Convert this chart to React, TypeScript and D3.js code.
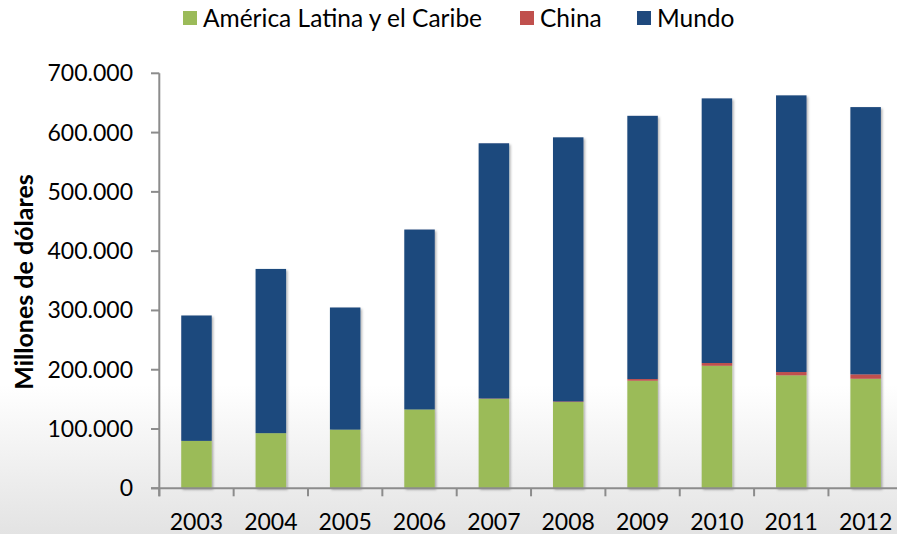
import React from "react";
import * as d3 from "d3";

const years = ["2003", "2004", "2005", "2006", "2007", "2008", "2009", "2010", "2011", "2012"];
const latam = [80000, 93000, 99000, 133000, 151000, 145500, 181500, 206700, 190600, 184800];
const china = [0, 0, 0, 0, 500, 1000, 2800, 4600, 5500, 7400];
const mundo = [211500, 277000, 206000, 303500, 430500, 445500, 444000, 446400, 466700, 450800];
const yTicks = [0, 100000, 200000, 300000, 400000, 500000, 600000, 700000];
const seriesNames = ["América Latina y el Caribe", "China", "Mundo"];
const seriesColors = ["#9BBB59", "#C0504D", "#1F497D"];

const W = 897;
const H = 534;
const FONT = "Lato, 'Open Sans', sans-serif";

export default function App() {
  const rows = years.map((y, i) => ({ year: y, a: latam[i], b: china[i], c: mundo[i] }));
  const stack = d3.stack<any>().keys(["a", "b", "c"]);
  const layers = stack(rows);

  const x = d3.scaleBand().domain(years).range([159.3, 902.8]).paddingInner(0.59).paddingOuter(0.295);
  const y = d3.scaleLinear().domain([0, 700000]).range([488.3, 73.3]);
  const fmt = d3.formatLocale({ decimal: ",", thousands: ".", grouping: [3], currency: ["", ""] }).format(",");

  const step = x.step();
  const x0 = x.range()[0];
  const legendX = [183, 520, 637];

  return (
    <svg width={W} height={H} style={{ position: "absolute", left: 0, top: 0 }} fontFamily={FONT}>
      <defs>
        <linearGradient id="bg" x1="0" y1="0" x2="0" y2="1">
          <stop offset="0" stopColor="#ffffff" />
          <stop offset="0.72" stopColor="#ffffff" />
          <stop offset="1" stopColor="#e3e3e3" />
        </linearGradient>
        <filter id="sh" x="-20%" y="-5%" width="150%" height="115%">
          <feDropShadow dx="1.5" dy="1.5" stdDeviation="1.2" floodColor="#000" floodOpacity="0.3" />
        </filter>
      </defs>
      <rect x={0} y={0} width={W} height={H} fill="url(#bg)" />

      {/* legend */}
      {seriesNames.map((n, i) => (
        <g key={n}>
          <rect x={legendX[i]} y={11} width={14} height={14} fill={seriesColors[i]} />
          <text x={legendX[i] + 20} y={27} fontSize={24.5} fill="#000">{n}</text>
        </g>
      ))}

      {/* y axis title */}
      <text
        transform={`translate(33,${282}) rotate(-90)`}
        textAnchor="middle"
        fontSize={25}
        fontWeight="bold"
        fill="#000"
      >
        Millones de dólares
      </text>

      {/* bars */}
      <g filter="url(#sh)">
        {layers.map((layer, li) =>
          layer.map((d: any, i: number) => {
            const h = y(d[0]) - y(d[1]);
            if (h <= 0) return null;
            return (
              <rect
                key={`${li}-${i}`}
                x={x(years[i])}
                y={y(d[1])}
                width={x.bandwidth()}
                height={h}
                fill={seriesColors[li]}
              />
            );
          })
        )}
      </g>

      {/* y axis */}
      <line x1={159.3} x2={159.3} y1={y(700000)} y2={y(0) + 8} stroke="#8c8c8c" strokeWidth={2} />
      {yTicks.map((t) => (
        <g key={t}>
          <line x1={151} x2={159.3} y1={y(t)} y2={y(t)} stroke="#8c8c8c" strokeWidth={2} />
          <text x={133} y={y(t)} dy="0.35em" textAnchor="end" fontSize={23} fill="#000">
            {fmt(t)}
          </text>
        </g>
      ))}

      {/* x axis */}
      <line x1={151} x2={W} y1={y(0)} y2={y(0)} stroke="#8c8c8c" strokeWidth={2} />
      {years.map((yr, i) => (
        <g key={yr}>
          <line x1={x0 + step * i} x2={x0 + step * i} y1={y(0)} y2={y(0) + 8} stroke="#8c8c8c" strokeWidth={2} />
          <text x={(x(yr) as number) + x.bandwidth() / 2} y={530} textAnchor="middle" fontSize={23} fill="#000">
            {yr}
          </text>
        </g>
      ))}
    </svg>
  );
}
